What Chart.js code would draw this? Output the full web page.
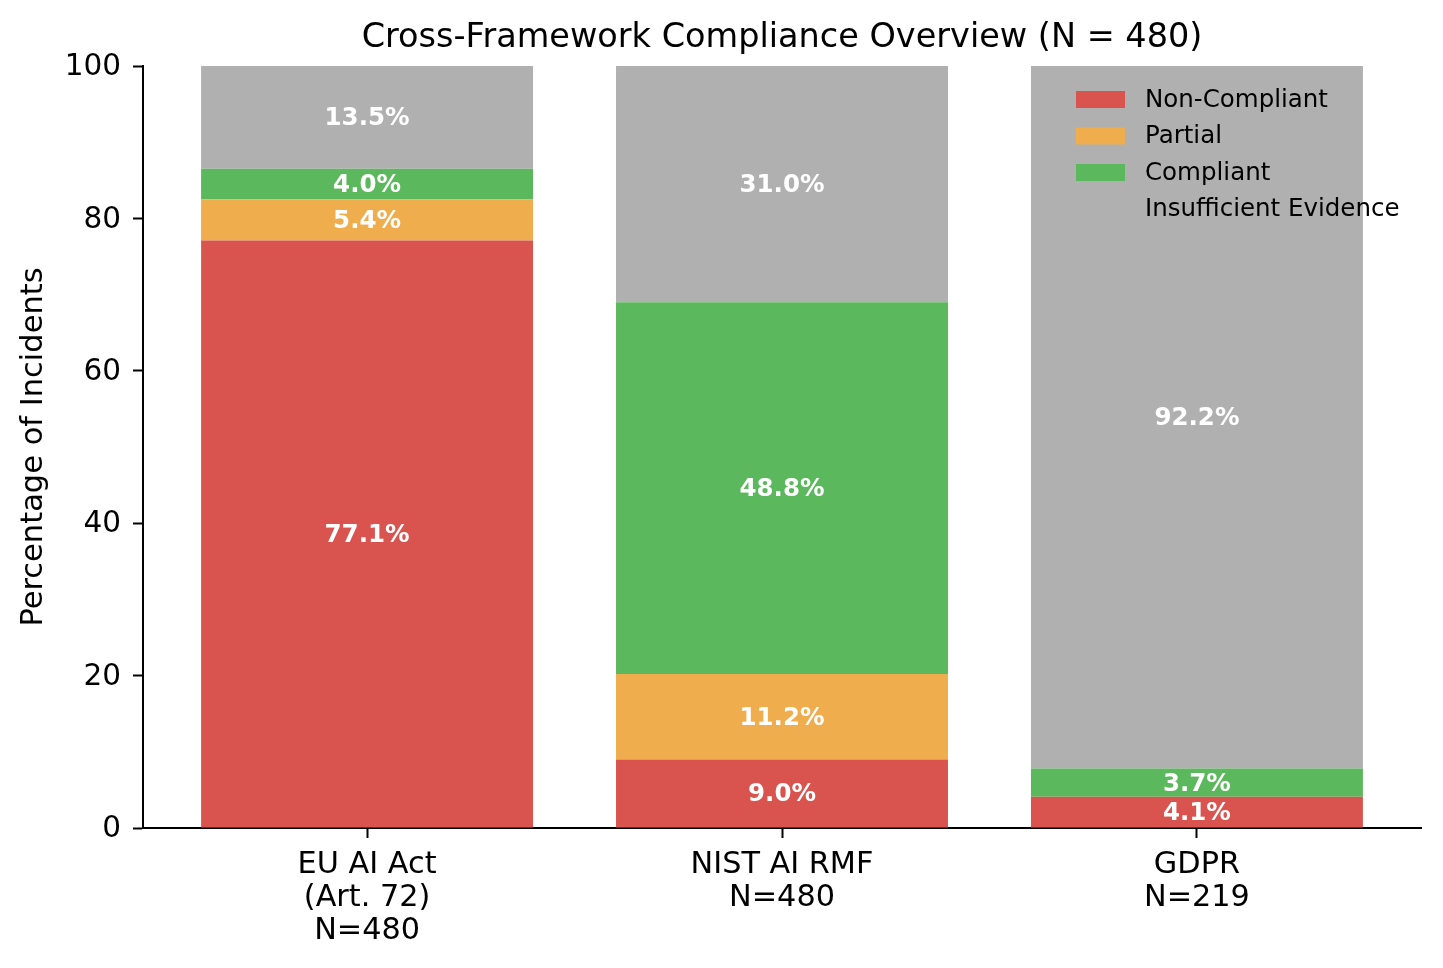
<!DOCTYPE html>
<html>
<head>
<meta charset="utf-8">
<script src="https://cdn.jsdelivr.net/npm/chart.js@4/dist/chart.umd.min.js"></script>
<style>
  html, body { margin: 0; padding: 0; background: #fff; }
  #wrap { width: 1443px; height: 968px; }
</style>
</head>
<body>
<div id="wrap"><canvas id="c" width="1443" height="968"></canvas></div>
<script>
const chartTitle = "Cross-Framework Compliance Overview (N = 480)";
const categories = [["EU AI Act", "(Art. 72)", "N=480"], ["NIST AI RMF", "N=480"], ["GDPR", "N=219"]];
const seriesNames = ["Non-Compliant", "Partial", "Compliant", "Insufficient Evidence"];
const nonCompliant = [77.1, 9.0, 4.1];
const partial = [5.4, 11.2, 0.0];
const compliant = [4.0, 48.8, 3.7];
const insufficient = [13.5, 31.0, 92.2];
const yTicks = [0, 20, 40, 60, 80, 100];
const colors = ["#d9534f", "#f0ad4e", "#5cb85c", "#b0b0b0"];

const FONT = "'DejaVu Sans', sans-serif";
const series = [nonCompliant, partial, compliant, insufficient];

const datasets = series.map((vals, i) => ({
  label: seriesNames[i],
  data: vals.map((v, k) => ({ x: k, y: v })),
  backgroundColor: colors[i],
  borderWidth: 0,
  barPercentage: 0.8,
  categoryPercentage: 1.0
}));

const barLabels = {
  id: 'barLabels',
  afterDatasetsDraw(chart) {
    const ctx = chart.ctx;
    ctx.save();
    ctx.font = "bold 24.5px " + FONT;
    ctx.fillStyle = "#ffffff";
    ctx.textAlign = "center";
    ctx.textBaseline = "middle";
    chart.data.datasets.forEach((ds, di) => {
      const meta = chart.getDatasetMeta(di);
      meta.data.forEach((el, k) => {
        const v = ds.data[k].y;
        if (v > 0) {
          ctx.fillText(v.toFixed(1) + "%", el.x, (el.y + el.base) / 2 + 1.5);
        }
      });
    });
    ctx.restore();
  }
};

const innerLegend = {
  id: 'innerLegend',
  afterDraw(chart) {
    const ctx = chart.ctx;
    const area = chart.chartArea;
    ctx.save();
    ctx.font = "24.5px " + FONT;
    ctx.textAlign = "left";
    ctx.textBaseline = "middle";
    const x0 = area.right - 345;
    const y0 = area.top + 33.5;
    chart.data.datasets.forEach((ds, i) => {
      const cy = y0 + i * 36.5;
      ctx.fillStyle = ds.backgroundColor;
      ctx.fillRect(x0, cy - 8.5, 49, 17);
      ctx.fillStyle = "#000";
      ctx.fillText(ds.label, x0 + 69, cy + 1);
    });
    ctx.restore();
  }
};

const areaTitle = {
  id: 'areaTitle',
  afterDraw(chart) {
    const ctx = chart.ctx;
    const area = chart.chartArea;
    ctx.save();
    ctx.font = "33.5px " + FONT;
    ctx.fillStyle = "#000";
    ctx.textAlign = "center";
    ctx.textBaseline = "alphabetic";
    ctx.fillText(chartTitle, (area.left + area.right) / 2, 47);
    ctx.restore();
  }
};

new Chart(document.getElementById('c'), {
  type: 'bar',
  data: { datasets },
  options: {
    responsive: false,
    animation: false,
    devicePixelRatio: 1,
    layout: { padding: { left: 0, right: 22, top: 66, bottom: 0 } },
    plugins: {
      legend: { display: false },
      tooltip: { enabled: false },
      title: { display: false }
    },
    scales: {
      x: {
        type: 'linear',
        stacked: true,
        offset: false,
        min: -0.54,
        max: 2.54,
        afterBuildTicks(scale) { scale.ticks = categories.map((c, i) => ({ value: i })); },
        afterFit(scale) { scale.height = 140; },
        grid: { offset: false, drawOnChartArea: false, drawTicks: true, tickLength: 10, tickColor: "#000", tickWidth: 2 },
        border: { color: "#000", width: 2 },
        ticks: {
          color: "#000",
          padding: 10,
          maxRotation: 0,
          autoSkip: false,
          font: { family: FONT, size: 30.3, lineHeight: 1.1 },
          callback: (v) => categories[v] || ""
        }
      },
      y: {
        stacked: true,
        min: 0,
        max: 100,
        afterBuildTicks(scale) { scale.ticks = yTicks.map(v => ({ value: v })); },
        afterFit(scale) { scale.width = 143; },
        grid: { drawOnChartArea: false, drawTicks: true, tickLength: 10, tickColor: "#000", tickWidth: 2 },
        border: { color: "#000", width: 2 },
        ticks: {
          color: "#000",
          padding: 12,
          labelOffset: 1.5,
          font: { family: FONT, size: 29.5 }
        },
        title: {
          display: true,
          text: "Percentage of Incidents",
          color: "#000",
          font: { family: FONT, size: 30.5, lineHeight: 1.2 },
          padding: { top: 16, bottom: 0 }
        }
      }
    }
  },
  plugins: [barLabels, innerLegend, areaTitle]
});
</script>
</body>
</html>
